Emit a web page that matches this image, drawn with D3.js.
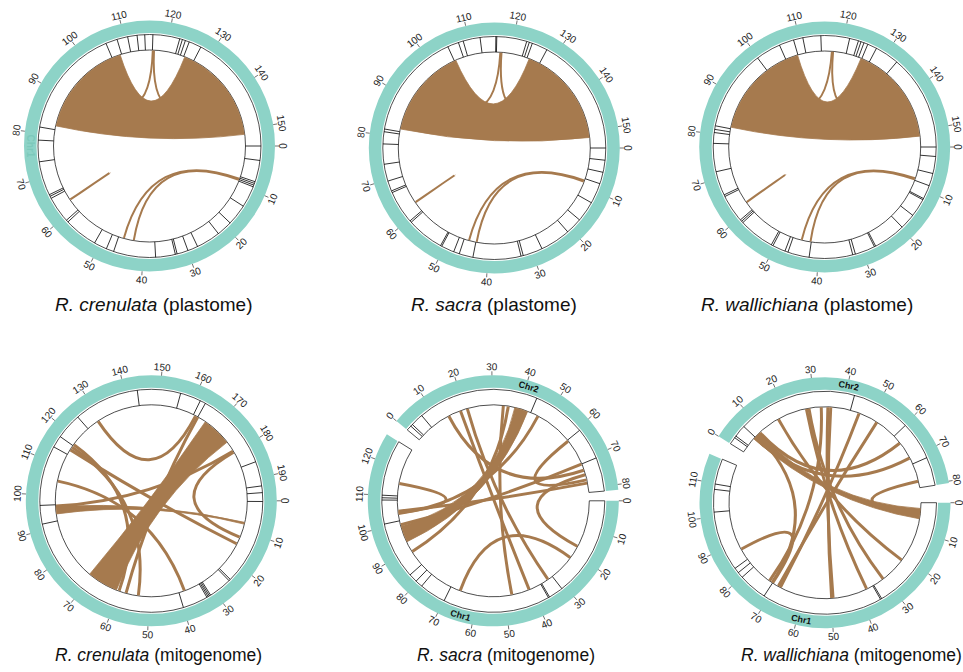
<!DOCTYPE html>
<html>
<head>
<meta charset="utf-8">
<script src="https://cdn.jsdelivr.net/npm/d3@7"></script>
<style>
  body { margin: 0; background: #fff; }
  svg text { font-family: "Liberation Sans", Arial, sans-serif; }
</style>
</head>
<body>
<svg id="chart" width="963" height="672"></svg>
<script>
// ---------- data (positions in kb) ----------
const plastLen = [154.2];
const plastTicks = [0, 10, 20, 30, 40, 50, 60, 70, 80, 90, 100, 110, 120, 130, 140, 150];

const crenPlastFeat = [0, 3.2, 8.0, 8.4, 8.8, 9.2, 14, 18.7, 22.2, 27.6, 29.9, 32.4, 32.8, 37.2, 46.6, 48.3, 51.2, 58.7, 59.2, 65.1, 65.6, 66, 73.6, 78.4, 81.3, 105.8, 108.4, 110.8, 112.9, 114.6, 116.4, 122.4, 123, 123.7, 124.6, 127.4];
const sacraPlastFeat = [0, 2.7, 5.4, 8, 12.6, 17.2, 20.9, 27.7, 32.1, 32.6, 43.3, 46.4, 47.7, 50.6, 50.9, 59.2, 59.6, 67, 67.4, 69.7, 73.5, 78, 80.7, 81.3, 105.1, 107.6, 108.7, 112.5, 116.0, 116.2, 122.9, 123.5, 124.2, 127.7];
const wallPlastFeat = [0, 2.1, 5.9, 8.7, 11.8, 12.1, 16.2, 19.7, 26.9, 27.2, 31.7, 32.3, 42, 46.8, 47.5, 50.4, 50.8, 58.8, 59.2, 59.6, 65.8, 66.2, 71.6, 77.9, 80.3, 81, 81.8, 99.8, 105.4, 108.7, 110.8, 114.8, 121.2, 123.2, 123.8, 124.5, 125.4, 127.5, 132.9];

// links: thin = [chrA, posA, chrB, posB]; wide = [chrA, a0, a1, chrB, b0, b1]
const crenPlastThin = [[0, 116.5, 0, 97], [0, 116.8, 0, 136], [0, 62.5, 0, 62.55], [0, 8.6, 0, 45.2], [0, 8.9, 0, 42.6]];
const crenPlastWide = [[0, 82.3, 108, 0, 124.9, 151.2]];
const sacraPlastThin = [[0, 117.2, 0, 97], [0, 117.5, 0, 136], [0, 62.3, 0, 62.35], [0, 8.5, 0, 45.1], [0, 8.8, 0, 43.1]];
const sacraPlastWide = [[0, 82, 105.5, 0, 124.8, 151.5]];
const wallPlastThin = [[0, 117.5, 0, 97], [0, 117.8, 0, 136], [0, 62.0, 0, 62.05], [0, 8.2, 0, 44.5], [0, 8.5, 0, 42.2]];
const wallPlastWide = [[0, 82.2, 108.6, 0, 125.2, 151.4]];

// ---------- mitogenomes ----------
const crenMitoLen = [196.6];
const crenMitoTicks = [0, 10, 20, 30, 40, 50, 60, 70, 80, 90, 100, 110, 120, 130, 140, 150, 160, 170, 180, 190];
const crenMitoFeat = [0.2, 24.5, 25.0, 31.6, 32.0, 32.4, 32.8, 40, 91.7, 97, 114.1, 117.5, 124.9, 143.5, 155.8, 161.7, 163.3, 185.4, 192.4, 194.3];
const crenMitoThin = [
  [0, 129.0, 0, 162.5], [0, 163.3, 0, 57.5], [0, 115.9, 0, 14.6], [0, 116.9, 0, 53.4],
  [0, 117.9, 0, 59.9], [0, 104.8, 0, 38.1], [0, 96.6, 0, 179.5], [0, 179.9, 0, 12.2]
];
const crenMitoWide = [[0, 94.0, 96.4, 0, 7.1, 7.7], [0, 166.2, 176, 0, 60.8, 71.0]];

const sacraMitoLen = [127.5, 81.5];
const sacraChr1Ticks = [0, 10, 20, 30, 40, 50, 60, 70, 80, 90, 100, 110, 120];
const sacraChr2Ticks = [0, 10, 20, 30, 40, 50, 60, 70, 80];
const sacraChr1Feat = [31.3, 35.9, 36.3, 69.9, 78.2, 80.5, 83.2, 101, 108.5, 109.2, 110];
const sacraChr2Feat = [1.6, 2.3, 6.3, 44.2, 60.9, 70.9];
const sacraMitoThin = [
  [1, 13.7, 1, 73.3], [1, 18.3, 0, 40.9], [1, 20.9, 0, 33.2], [1, 34.0, 0, 47.4],
  [1, 35.8, 0, 89.0], [1, 47.1, 0, 103.7], [1, 61.3, 1, 76.9], [1, 70.9, 0, 99.5],
  [1, 75.0, 0, 17.1], [1, 78.1, 0, 104.5], [0, 114.5, 0, 103.9], [0, 21.9, 0, 66.3]
];
const sacraMitoWide = [[1, 38.2, 43.0, 0, 93.0, 99.0]];

const wallMitoLen = [117.5, 80.5];
const wallChr1Ticks = [0, 10, 20, 30, 40, 50, 60, 70, 80, 90, 100, 110];
const wallChr2Ticks = [0, 10, 20, 30, 40, 50, 60, 70, 80];
const wallChr1Feat = [34.4, 34.8, 71.3, 79.9, 81.7, 83.3, 101.4, 108.2, 109.8];
const wallChr2Feat = [2.2, 2.8, 6.5, 42.5, 60.3, 71.9];
const wallMitoThin = [
  [1, 6.2, 1, 69.6], [1, 7.5, 0, 71.5], [1, 16.7, 0, 21.3], [1, 27.1, 0, 37.2],
  [1, 28.0, 0, 30.5], [1, 32.3, 0, 72.6], [1, 34.6, 0, 49.3], [1, 35.6, 0, 49.8],
  [1, 45.7, 0, 68.2], [1, 52.6, 0, 69.0], [1, 63.4, 1, 8.8], [1, 78.2, 0, 3.8],
  [0, 87.4, 0, 71.3]
];
const wallMitoWide = [[1, 5.8, 8.6, 0, 2.0, 5.6]];

// ---------- layout ----------
const teal = "#8dd3c7", brown = "#a67a4e";
const rTealOut = 125.5, rTealIn = 113, rTrackOut = 111.5, rTrackIn = 96, rLink = 95.5;

const panels = [
  {cx: 149.5, cy: 146, lens: plastLen, gaps: [0], ticks: [plastTicks], feats: [crenPlastFeat],
   thin: crenPlastThin, wide: crenPlastWide, lw: 2, chrLabel: "teal",
   species: "R. crenulata", kind: " (plastome)", capX: 55, capY: 311, capSize: 19},
  {cx: 494.3, cy: 148, lens: plastLen, gaps: [0], ticks: [plastTicks], feats: [sacraPlastFeat],
   thin: sacraPlastThin, wide: sacraPlastWide, lw: 2, chrLabel: null,
   species: "R. sacra", kind: " (plastome)", capX: 411, capY: 311, capSize: 19},
  {cx: 824.7, cy: 147, lens: plastLen, gaps: [0], ticks: [plastTicks], feats: [wallPlastFeat],
   thin: wallPlastThin, wide: wallPlastWide, lw: 2, chrLabel: null,
   species: "R. wallichiana", kind: " (plastome)", capX: 701, capY: 311, capSize: 19},
  {cx: 151.3, cy: 500.8, lens: crenMitoLen, gaps: [0], ticks: [crenMitoTicks], feats: [crenMitoFeat],
   thin: crenMitoThin, wide: crenMitoWide, lw: 3, chrLabel: null,
   species: "R. crenulata", kind: " (mitogenome)", capX: 55, capY: 661, capSize: 17.5},
  {cx: 493.3, cy: 500.8, lens: sacraMitoLen, gaps: [7.5, 5], ticks: [sacraChr1Ticks, sacraChr2Ticks],
   feats: [sacraChr1Feat, sacraChr2Feat], thin: sacraMitoThin, wide: sacraMitoWide, lw: 3, chrLabel: "#000",
   species: "R. sacra", kind: " (mitogenome)", capX: 417, capY: 661, capSize: 17.5},
  {cx: 825, cy: 502.7, lens: wallMitoLen, gaps: [9, 9], ticks: [wallChr1Ticks, wallChr2Ticks],
   feats: [wallChr1Feat, wallChr2Feat], thin: wallMitoThin, wide: wallMitoWide, lw: 3, chrLabel: "#000",
   species: "R. wallichiana", kind: " (mitogenome)", capX: 741, capY: 661, capSize: 17.5}
];

const svg = d3.select("#chart");
const toRad = deg => (deg + 90) * Math.PI / 180;   // 0deg = 3 o'clock, clockwise
const px = (deg, r) => [r * Math.cos(deg * Math.PI / 180), r * Math.sin(deg * Math.PI / 180)];

// text orientation as in circlize: top outward in upper half, toward centre in lower half
function rot(a) {
  a = ((a % 360) + 360) % 360;
  return a > 180 ? a + 90 : a - 90;
}

const arc = d3.arc();
const ribbon = d3.ribbon().radius(rLink);

panels.forEach(p => {
  const g = svg.append("g").attr("transform", `translate(${p.cx},${p.cy})`);
  const k = (360 - d3.sum(p.gaps)) / d3.sum(p.lens);
  let start = 0;
  const scales = p.lens.map((L, i) => {
    const s = d3.scaleLinear().domain([0, L]).range([start, start + L * k]);
    start += L * k + p.gaps[i];
    return s;
  });

  scales.forEach((s, i) => {
    const [a0, a1] = s.range();
    g.append("path")
      .attr("d", arc({innerRadius: rTealIn, outerRadius: rTealOut, startAngle: toRad(a0), endAngle: toRad(a1)}))
      .attr("fill", teal);
    g.append("path")
      .attr("d", arc({innerRadius: rTrackIn, outerRadius: rTrackOut, startAngle: toRad(a0), endAngle: toRad(a1)}))
      .attr("fill", "#fff").attr("stroke", "#000").attr("stroke-width", 0.7);

    // feature lines in the track
    g.selectAll(null).data(p.feats[i]).enter().append("line")
      .attr("x1", d => px(s(d), rTrackIn)[0]).attr("y1", d => px(s(d), rTrackIn)[1])
      .attr("x2", d => px(s(d), rTrackOut)[0]).attr("y2", d => px(s(d), rTrackOut)[1])
      .attr("stroke", "#000").attr("stroke-width", 0.8);

    // axis ticks
    g.selectAll(null).data(p.ticks[i]).enter().append("line")
      .attr("x1", d => px(s(d), rTealOut)[0]).attr("y1", d => px(s(d), rTealOut)[1])
      .attr("x2", d => px(s(d), rTealOut + 4)[0]).attr("y2", d => px(s(d), rTealOut + 4)[1])
      .attr("stroke", "#333").attr("stroke-width", 0.7);
    g.selectAll(null).data(p.ticks[i]).enter().append("text")
      .attr("transform", d => {
        const [x, y] = px(s(d), rTealOut + 8.5);
        return `translate(${x},${y}) rotate(${rot(s(d))})`;
      })
      .attr("text-anchor", "middle").attr("dominant-baseline", "central")
      .attr("font-size", 10).attr("fill", "#222")
      .text(d => d);

    if (p.chrLabel) {
      const mid = (a0 + a1) / 2;
      const [x, y] = px(mid, (rTealIn + rTealOut) / 2);
      g.append("text")
        .attr("transform", `translate(${x},${y}) rotate(${rot(mid)})`)
        .attr("text-anchor", "middle").attr("dominant-baseline", "central")
        .attr("font-size", p.chrLabel === "teal" ? 10 : 9).attr("font-weight", "bold")
        .attr("fill", p.chrLabel === "teal" ? "#7cc9bb" : "#111")
        .text("Chr" + (i + 1));
    }
  });

  // thin links
  g.selectAll(null).data(p.thin).enter().append("path")
    .attr("d", d => {
      const a = toRad(scales[d[0]](d[1])), b = toRad(scales[d[2]](d[3]));
      return ribbon({source: {startAngle: a, endAngle: a}, target: {startAngle: b, endAngle: b}});
    })
    .attr("fill", "none").attr("stroke", brown).attr("stroke-width", p.lw);

  // wide links
  g.selectAll(null).data(p.wide).enter().append("path")
    .attr("d", d => ribbon({
      source: {startAngle: toRad(scales[d[0]](d[1])), endAngle: toRad(scales[d[0]](d[2]))},
      target: {startAngle: toRad(scales[d[3]](d[4])), endAngle: toRad(scales[d[3]](d[5]))}
    }))
    .attr("fill", brown).attr("stroke", brown).attr("stroke-width", 0.8);

  // caption
  const cap = svg.append("text").attr("x", p.capX).attr("y", p.capY)
    .attr("font-size", p.capSize).attr("fill", "#111");
  cap.append("tspan").attr("font-style", "italic").text(p.species);
  cap.append("tspan").text(p.kind);
});
</script>
</body>
</html>
